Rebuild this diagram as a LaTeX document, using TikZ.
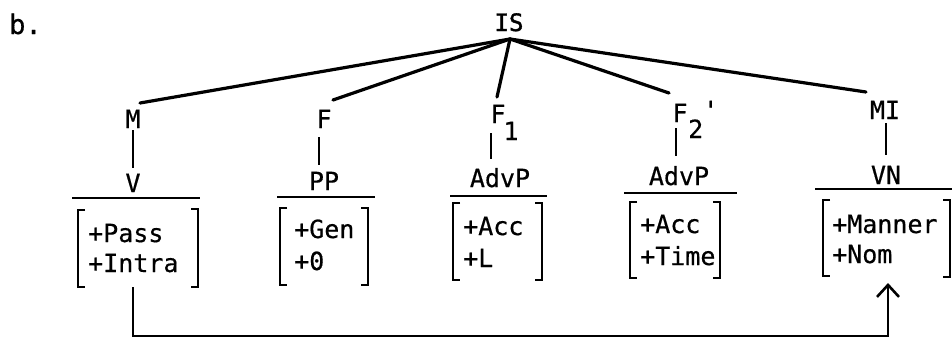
\documentclass[tikz,border=0pt]{standalone}
\usepackage{fontspec}
\newfontfamily\typ[FakeBold=0.5]{DejaVu Sans Mono}
\newfontfamily\typb[FakeBold=1.5]{DejaVu Sans Mono}
\usetikzlibrary{arrows.meta}
\newcommand\LBr[3]{\draw[brk] (#1+7,#2) -- (#1,#2) -- (#1,#3) -- (#1+7,#3);}
\newcommand\RBr[3]{\draw[brk] (#1-7,#2) -- (#1,#2) -- (#1,#3) -- (#1-7,#3);}
\begin{document}
\begin{tikzpicture}[x=1pt,y=-1pt,
  txt/.style={font=\typ\fontsize{25}{30}\selectfont, inner sep=0pt, anchor=base},
  feat/.style={txt, anchor=base west},
  tree/.style={line width=3.2pt, line cap=round},
  stem/.style={line width=2.4pt},
  rulel/.style={line width=2.8pt},
  brk/.style={line width=2.6pt},
  link/.style={line width=2.6pt}]
\useasboundingbox (0,0) rectangle (952,341);
% label
\node[txt, anchor=base west, font=\typ\fontsize{27}{30}\selectfont] (b) at (9,34) {b.};
% root
\node[txt, font=\typb\fontsize{24}{28}\selectfont] (IS) at (509,31) {IS};
\coordinate (apex) at (510,39);
% level 1
\node[txt] (M) at (133,128) {M};
\node[txt] (F) at (324,128) {F};
\node[txt] (F1) at (498,123) {F};
\node[txt] (F1s) at (511,140) {1};
\node[txt] (F2) at (680,122) {F};
\node[txt, anchor=base west] (F2s) at (688,138) {2\raisebox{19pt}{'}};
\node[txt] (MI) at (885,119) {MI};
\coordinate (mEnd) at (140,103);
\coordinate (fEnd) at (333,100);
\coordinate (f1End) at (497,97);
\coordinate (f2End) at (669,93);
\coordinate (miEnd) at (866,92);
\draw[tree] (apex) -- (mEnd);
\draw[tree] (apex) -- (fEnd);
\draw[tree] (apex) -- (f1End);
\draw[tree] (apex) -- (f2End);
\draw[tree] (apex) -- (miEnd);
% categories
\node[txt] (V) at (133,192) {V};
\node[txt] (PP) at (324,190) {PP};
\node[txt] (A1) at (500,187) {AdvP};
\node[txt] (A2) at (679,185) {AdvP};
\node[txt] (VN) at (886,184) {VN};
\draw[stem] ([yshift=-2pt]M.south) -- ([yshift=6pt]V.north);
\draw[stem] ([xshift=-5pt,yshift=-9pt]F.south) -- ([xshift=-5pt,yshift=7pt]PP.north);
\draw[stem] ([xshift=-7pt,yshift=-10pt]F1.south) -- ([xshift=-9pt,yshift=9pt]A1.north);
\draw[stem] ([xshift=-4pt,yshift=-6pt]F2.south) -- ([xshift=-3pt,yshift=10pt]A2.north);
\draw[stem] ([xshift=1pt,yshift=-4pt]MI.south) -- ([yshift=11pt]VN.north);
% underlines
\draw[rulel] (72,198) -- (200,198);
\draw[rulel] (277,197) -- (375,197);
\draw[rulel] (450,196) -- (547,196);
\draw[rulel] (624,193) -- (737,193);
\draw[rulel] (815,189) -- (952,189);
% feature matrices
\node[feat] (fV1) at (88,242) {+Pass};
\node[feat] (fV2) at (88,272) {+Intra};
\LBr{78}{210}{287}\RBr{198}{209}{287}
\node[feat] (fP1) at (294,238) {+Gen};
\node[feat] (fP2) at (294,270) {+0};
\LBr{280}{208}{285}\RBr{368}{208}{285}
\node[feat] (fA1) at (463,235) {+Acc};
\node[feat] (fA2) at (463,267) {+L};
\LBr{453}{203}{280}\RBr{542}{203}{280}
\node[feat] (fB1) at (640,233) {+Acc};
\node[feat] (fB2) at (640,265) {+Time};
\LBr{630}{202}{278}\RBr{720}{202}{278}
\node[feat] (fN1) at (832,233) {+Manner};
\node[feat] (fN2) at (832,263) {+Nom};
\LBr{823}{200}{276}\RBr{950}{200}{277}
% link arrow
\coordinate (aS) at (133,287);
\coordinate (aE) at (888,283);
\draw[link, -{Straight Barb[length=12pt,width=22pt,line width=2.6pt]}] (aS) -- ++(0,49) -| (aE);
\end{tikzpicture}
\end{document}
